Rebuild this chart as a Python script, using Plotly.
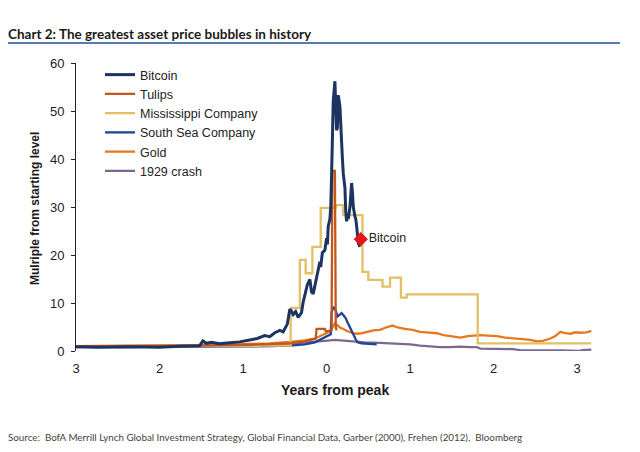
import plotly.graph_objects as go

# ---------------- data (years from peak, multiple from starting level) ----------------
btc_x = [-3.00, -2.73, -2.36, -2.00, -1.76, -1.52, -1.48, -1.44, -1.38, -1.28, -1.16, -1.04,
         -0.92, -0.83, -0.74, -0.68, -0.62, -0.56, -0.52, -0.47, -0.44, -0.42, -0.40, -0.37,
         -0.34, -0.30, -0.28, -0.25, -0.23, -0.20, -0.18, -0.16, -0.13, -0.11, -0.08, -0.07,
         -0.05, -0.02, -0.01, 0.00, 0.01, 0.02, 0.04, 0.05, 0.06, 0.07, 0.08, 0.10, 0.11,
         0.12, 0.13, 0.14, 0.16, 0.17, 0.18, 0.19, 0.20, 0.22, 0.23, 0.24, 0.25, 0.26, 0.28,
         0.29, 0.30, 0.31, 0.32, 0.34, 0.35, 0.36, 0.37, 0.38, 0.40]
btc_y = [0.9, 0.8, 0.9, 0.8, 1.0, 1.1, 2.1, 1.6, 1.8, 1.5, 1.7, 1.9,
         2.3, 2.6, 3.2, 3.0, 3.8, 4.3, 4.0, 5.6, 8.7, 8.3, 7.6, 8.2,
         7.0, 8.0, 10.2, 12.6, 13.8, 14.9, 12.3, 11.9, 14.5, 16.6, 18.6, 17.5,
         20.5, 21.0, 22.8, 23.5, 22.2, 26.0, 27.5, 30.0, 36.5, 44.0, 52.0, 56.2, 50.0,
         46.0, 46.5, 53.3, 51.0, 46.0, 43.0, 40.0, 37.0, 34.0, 29.0, 27.0, 28.5, 27.5, 30.0,
         32.0, 35.0, 33.0, 30.0, 28.0, 27.5, 26.0, 24.0, 22.5, 21.7]

tulip_x = [-3.00, -2.12, -1.52, -0.92, -0.44, -0.26, -0.18, -0.13, -0.12, -0.02, -0.01, 0.06,
           0.07, 0.10, 0.11, 0.12]
tulip_y = [1.0, 1.0, 1.1, 1.3, 1.6, 2.0, 2.3, 2.6, 4.6, 4.6, 4.1, 4.3,
           37.5, 37.5, 5.0, 4.3]

miss_x = [-3.00, -1.50, -0.80, -0.43, -0.32, -0.25, -0.17, -0.07, 0.11, 0.20, 0.43, 0.50,
          0.67, 0.76, 0.89, 0.96, 1.81, 3.17]
miss_y = [1.0, 1.05, 1.15, 9.0, 19.0, 16.2, 21.7, 29.8, 30.4, 28.3, 16.5, 14.8,
          13.4, 15.3, 11.1, 11.8, 1.6, 1.6]

ss_x = [-3.00, -2.49, -2.00, -1.52, -1.04, -0.68, -0.44, -0.26, -0.14, -0.06, 0.01, 0.05,
        0.06, 0.08, 0.11, 0.13, 0.16, 0.18, 0.20, 0.23, 0.25, 0.28, 0.30, 0.32, 0.35, 0.37,
        0.42, 0.52, 0.60]
ss_y = [0.9, 0.8, 0.9, 0.9, 1.0, 1.0, 1.1, 1.4, 1.8, 2.5, 3.0, 3.5,
        8.0, 9.2, 8.5, 7.2, 7.6, 7.9, 7.5, 6.8, 6.0, 5.0, 4.4, 3.5, 2.4, 1.8,
        1.6, 1.5, 1.4]

gold_x = [-3.00, -2.49, -2.00, -1.52, -1.04, -0.68, -0.44, -0.26, -0.14, -0.06, 0.01, 0.05,
          0.07, 0.10, 0.12, 0.16, 0.20, 0.25, 0.30, 0.35, 0.42, 0.49, 0.56, 0.64, 0.71, 0.79,
          0.85, 0.94, 1.03, 1.12, 1.21, 1.32, 1.40, 1.50, 1.60, 1.69, 1.78, 1.84, 1.93, 2.04,
          2.14, 2.26, 2.35, 2.44, 2.52, 2.59, 2.68, 2.74, 2.80, 2.86, 2.92, 2.98, 3.04, 3.11,
          3.17]
gold_y = [1.0, 1.05, 1.1, 1.2, 1.4, 1.6, 1.9, 2.2, 2.6, 3.2, 3.8, 4.3,
          5.0, 5.8, 5.5, 4.9, 4.6, 4.1, 3.8, 3.6, 3.7, 4.0, 4.3, 4.4, 4.9, 5.3,
          4.9, 4.6, 4.4, 4.0, 3.9, 3.7, 3.3, 3.0, 2.8, 3.1, 3.2, 3.3, 3.2, 3.1,
          2.8, 2.6, 2.4, 2.3, 2.0, 2.1, 2.6, 3.1, 4.0, 3.7, 3.6, 3.9, 3.8, 3.9,
          4.2]

crash_x = [-3.00, -2.49, -2.00, -1.52, -1.04, -0.68, -0.44, -0.26, -0.14, -0.02, 0.10, 0.22,
           0.34, 0.46, 0.64, 0.88, 1.00, 1.12, 1.24, 1.36, 1.48, 1.60, 1.72, 1.80, 1.84, 1.96,
           2.08, 2.23, 2.32, 2.44, 2.80, 3.00, 3.03, 3.06, 3.17]
crash_y = [0.8, 0.8, 0.9, 1.0, 1.1, 1.3, 1.5, 1.7, 1.9, 2.1, 2.3, 2.1,
           1.9, 1.8, 1.7, 1.5, 1.4, 1.1, 0.9, 0.8, 0.8, 0.9, 0.8, 0.8, 0.5, 0.5,
           0.4, 0.4, 0.2, 0.1, 0.1, 0.1, 0.0, 0.2, 0.3]

btc_now_x = [0.41]
btc_now_y = [23.3]
btc_now_label = ["Bitcoin"]

x_ticks = [-3, -2, -1, 0, 1, 2, 3]
x_tick_text = ["3", "2", "1", "0", "1", "2", "3"]

# ---------------- layout geometry (screen pixels; page body has an 8px margin) ----------------
W, H = 640, 452
OFF = 8
L, R, T, B = 76, 598, 63, 351   # plot area on screen


def px(xpix):
    return (xpix - L) / (R - L)


def py(ypix):
    return (B - ypix) / (B - T)


FONT = "Liberation Sans, Arial, sans-serif"
TITLEFONT = "Lato, Liberation Sans, sans-serif"

fig = go.Figure()

series = [
    ("1929 crash", crash_x, crash_y, "#7b6a8e", 2.3, 6, "linear"),
    ("Gold", gold_x, gold_y, "#e8781f", 2.3, 5, "linear"),
    ("South Sea Company", ss_x, ss_y, "#1f449a", 2.3, 4, "linear"),
    ("Mississippi Company", miss_x, miss_y, "#e3c064", 2.3, 3, "hv"),
    ("Tulips", tulip_x, tulip_y, "#c2561c", 2.3, 2, "linear"),
    ("Bitcoin", btc_x, btc_y, "#1c3560", 3.0, 1, "linear"),
]
for name, xs, ys, col, w, rank, shape in series:
    fig.add_trace(go.Scatter(
        x=xs, y=ys, name=name, mode="lines",
        line=dict(color=col, width=w, shape=shape),
        legendrank=rank,
    ))

fig.add_trace(go.Scatter(
    x=btc_now_x, y=btc_now_y, mode="markers+text", text=btc_now_label,
    textposition="middle right", showlegend=False,
    marker=dict(symbol="diamond", color="#e8141c", size=11),
    textfont=dict(family=FONT, size=12.5, color="#222222"),
))

fig.update_layout(
    width=W, height=H,
    margin=dict(l=L - OFF, r=W - R + OFF, t=T - OFF, b=H - B + OFF),
    paper_bgcolor="white", plot_bgcolor="white",
    showlegend=True,
    legend=dict(
        x=px(100), y=py(60), xanchor="left", yanchor="top",
        font=dict(family=FONT, size=12.5, color="#222222"),
        bgcolor="rgba(0,0,0,0)", borderwidth=0,
        tracegroupgap=0,
    ),
    xaxis=dict(
        range=[-3.0, 3.25], tickvals=x_ticks, ticktext=x_tick_text,
        showgrid=False, zeroline=False, showline=False, ticks="",
        tickfont=dict(family=FONT, size=13, color="#222222"),
        ticklabelstandoff=8, automargin=False,
    ),
    yaxis=dict(
        range=[0, 60], dtick=10, showgrid=False, zeroline=False,
        showline=True, linecolor="#222222", linewidth=1,
        ticks="outside", ticklen=4, tickcolor="#222222",
        tickfont=dict(family=FONT, size=13, color="#222222"),
        ticklabelstandoff=4, automargin=False,
    ),
    font=dict(family=FONT),
)

fig.add_shape(type="line", xref="paper", yref="paper",
              x0=px(7), x1=px(620), y0=py(43), y1=py(43),
              line=dict(color="#5a7bb0", width=2))

fig.add_annotation(text="<b>Chart 2: The greatest asset price bubbles in history</b>",
                   xref="paper", yref="paper", x=px(6), y=py(34),
                   xanchor="left", yanchor="middle", showarrow=False,
                   font=dict(family=TITLEFONT, size=13.5, color="#1a1a1a"))

fig.add_annotation(text="<b>Mulriple from starting level</b>",
                   xref="paper", yref="paper", x=px(35), y=py(209),
                   xanchor="center", yanchor="middle", textangle=-90, showarrow=False,
                   font=dict(family=FONT, size=12, color="#1a1a1a"))

fig.add_annotation(text="<b>Years from peak</b>",
                   xref="paper", yref="paper", x=px(335), y=py(390),
                   xanchor="center", yanchor="middle", showarrow=False,
                   font=dict(family=FONT, size=14, color="#1a1a1a"))

fig.add_annotation(text="Source:  BofA Merrill Lynch Global Investment Strategy, Global Financial Data, Garber (2000), Frehen (2012),  Bloomberg",
                   xref="paper", yref="paper", x=px(6), y=py(437),
                   xanchor="left", yanchor="middle", showarrow=False,
                   font=dict(family=TITLEFONT, size=9.8, color="#444444"))

fig.write_html("out.html")
